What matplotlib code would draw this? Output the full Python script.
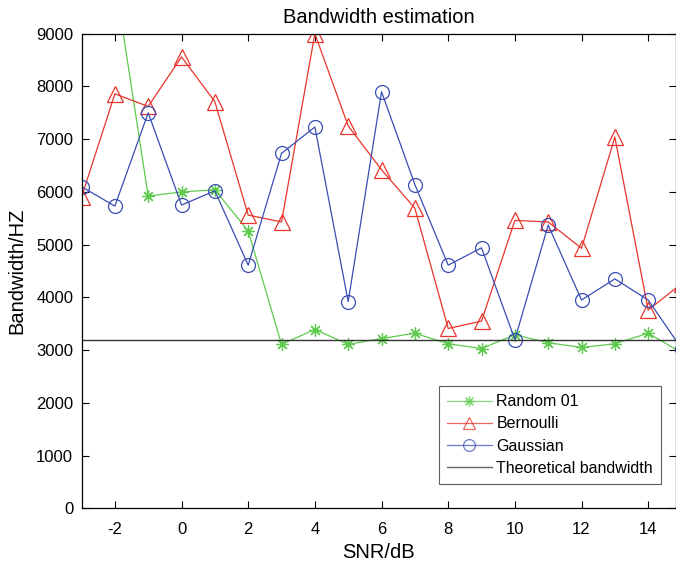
import numpy as np
import matplotlib
matplotlib.use("Agg")
import matplotlib.pyplot as plt

plt.rcParams["font.family"] = ["Liberation Sans", "DejaVu Sans"]
plt.rcParams["axes.unicode_minus"] = False

# SNR sweep and estimated bandwidths
snr = [-3, -2, -1, 0, 1, 2, 3, 4, 5, 6, 7, 8, 9, 10, 11, 12, 13, 14, 15]
random01 = [10500, 10040, 5920, 6000, 6040, 5260, 3110, 3390, 3110, 3220, 3320,
            3120, 3030, 3290, 3140, 3050, 3120, 3320, 2950]
bernoulli = [5900, 7860, 7620, 8560, 7710, 5560, 5430, 9000, 7250, 6420, 5690,
             3410, 3550, 5460, 5430, 4930, 7040, 3760, 4260]
gaussian = [6100, 5730, 7500, 5750, 6020, 4610, 6730, 7230, 3920, 7900, 6140,
            4610, 4940, 3200, 5370, 3950, 4350, 3950, 3030]
theory_bw = 3200

fig = plt.figure(figsize=(6.76, 5.67), dpi=100)
ax = fig.add_axes([0.1206, 0.1035, 0.8787, 0.8371])

# asterisk marker: 8 spokes like a "*" glyph
ax.plot(snr, random01, color="#5fcb4e", lw=0.9, marker=(8, 2, 0), ms=9,
        mec="#5fcb4e", mew=0.9, label="Random 01")
ax.plot(snr, bernoulli, color="#e8352c", lw=0.9, marker="^", ms=11,
        mfc="none", mec="#e8352c", mew=0.9, label="Bernoulli")
ax.plot(snr, gaussian, color="#3a4db3", lw=0.9, marker="o", ms=10,
        mfc="none", mec="#3a4db3", mew=0.9, label="Gaussian")
ax.axhline(theory_bw, color="#333333", lw=1.0, label="Theoretical bandwidth")

ax.set_xlim(-3, 14.82)
ax.set_ylim(0, 9000)
ax.set_xticks(np.arange(-2, 15, 2))
ax.set_yticks(np.arange(0, 9001, 1000))
ax.tick_params(direction="in", top=True, right=True, length=5, width=0.8,
               labelsize=12)
ax.tick_params(axis="x", pad=10)
ax.tick_params(axis="y", pad=6)
for s in ax.spines.values():
    s.set_linewidth(0.9)

ax.set_title("Bandwidth estimation", fontsize=14.5, pad=8)
ax.set_xlabel("SNR/dB", fontsize=14.5, labelpad=4)
ax.set_ylabel("Bandwidth/HZ", fontsize=14.5, labelpad=7)

leg = ax.legend(loc="lower right", bbox_to_anchor=(0.989, 0.035), fontsize=11.5,
                frameon=True, fancybox=False, edgecolor="#333333",
                handlelength=2.8, borderpad=0.5, labelspacing=0.45,
                handletextpad=0.3, markerscale=0.85)
leg.get_frame().set_linewidth(0.8)
for h in leg.get_lines():
    h.set_alpha(0.75)

fig.savefig("out.png", dpi=100)
